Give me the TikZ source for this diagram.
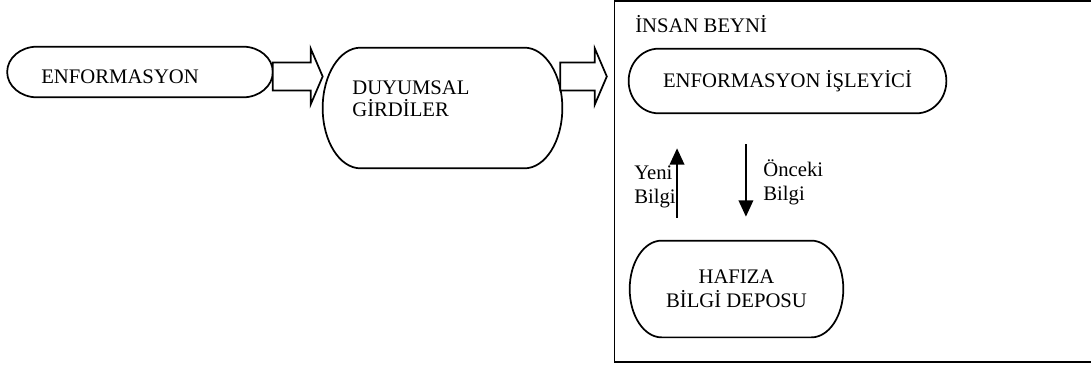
\documentclass[tikz,border=0pt]{standalone}
\usepackage{fontspec}
\setmainfont{Liberation Serif}
\usetikzlibrary{calc,arrows.meta}

\tikzset{
  oval/.style={inner sep=0pt, font=\fontsize{12}{14}\selectfont, align=center},
  txt/.style={inner sep=0pt, font=\fontsize{12}{14}\selectfont, align=left},
  flow/.style={line width=1pt, -{Triangle[width=8.5pt,length=9.5pt]}},
  blockarr/.style={line width=1pt, fill=white, line join=miter}
}

% outline with elliptic ends round a node
\newcommand\ovalline[2]{%
  \draw[line width=1pt] let \p1=(#1.north west), \p2=(#1.south east), \n1={(\y1-\y2)/2} in
    (\x1+#2,\y1) -- (\x2-#2,\y1)
    arc[start angle=90, end angle=-90, x radius=#2, y radius=\n1]
    -- (\x1+#2,\y2)
    arc[start angle=270, end angle=90, x radius=#2, y radius=\n1] -- cycle;}

% hollow block arrow from #1 to tip #2
\newcommand\blockarrow[2]{%
  \draw[blockarr] ($(#1)+(0,-14)$) -- ($(#2)+(-12,-14)$) -- ($(#2)+(-12,-28)$) -- (#2)
    -- ($(#2)+(-12,28)$) -- ($(#2)+(-12,14)$) -- ($(#1)+(0,14)$) -- cycle;}

\begin{document}
\begin{tikzpicture}[x=0.58pt,y=-0.58pt]
\useasboundingbox (0,0) rectangle (1091,365);

% inputs
\node[oval, minimum width=153.7pt, minimum height=29pt] (enf) at (140,72) {};
\ovalline{enf}{17.4pt}
\node[txt, anchor=base west] (enftxt) at (41,83) {ENFORMASYON};

\node[oval, minimum width=138.6pt, minimum height=69.6pt] (duy) at (442.5,108) {};
\ovalline{duy}{22pt}
\node[txt, font=\fontsize{12}{13}\selectfont, anchor=north west] (duytxt) at (352,80.5) {DUYUMSAL\\GİRDİLER};

% brain
\node[draw, line width=1pt, inner sep=0pt, minimum width=287pt, minimum height=209.4pt] (beyin) at (862,181.5) {};
\node[txt, anchor=base west] (beyintxt) at (635,32) {İNSAN BEYNİ};

\node[oval, minimum width=183.9pt, minimum height=37.1pt] (isl) at (787.5,81) {ENFORMASYON İŞLEYİCİ};
\ovalline{isl}{17.4pt}

\node[oval, minimum width=123.5pt, minimum height=55.7pt] (haf) at (736.5,289) {HAFIZA\\BİLGİ DEPOSU};
\ovalline{haf}{18.5pt}

\node[txt, anchor=north east] (yeni) at (676,165) {Yeni\\Bilgi};
\node[txt, anchor=north west] (onceki) at (763,159) {Önceki\\Bilgi};

\coordinate (upx) at ([xshift=0.6pt]yeni.east);
\coordinate (downx) at ([xshift=-9.9pt]onceki.west);
\draw[flow, shorten <=13.3pt, shorten >=20.3pt] (upx |- haf.north) -- (upx |- isl.south);
\draw[flow, shorten <=18pt, shorten >=13.9pt] (downx |- isl.south) -- (downx |- haf.north);

% block arrows
\coordinate (a1s) at ([yshift=-2.6pt]enf.east);
\coordinate (a1t) at (duy.west |- a1s);
\coordinate (a2s) at ([xshift=-1.2pt]duy.east |- a1s);
\coordinate (a2t) at ([xshift=-4pt]beyin.west |- a1s);
\blockarrow{a1s}{a1t}
\blockarrow{a2s}{a2t}
\end{tikzpicture}
\end{document}
